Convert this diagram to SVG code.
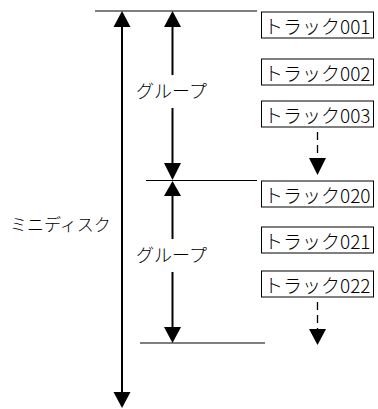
<svg xmlns="http://www.w3.org/2000/svg" width="378" height="409" viewBox="0 0 378 409">
<style>
text{font-family:"Noto Sans CJK JP","Noto Sans",sans-serif;font-weight:300;fill:#000;dominant-baseline:central}
.tr{font-size:19px}
.lb{font-size:18px;text-anchor:middle}
.box{fill:#fff;stroke:#000;stroke-width:1}
.rule{stroke:#000;stroke-width:1.2;fill:none}
.shaft{stroke:#000;stroke-width:2;fill:none}
.dash{stroke:#000;stroke-width:1.3;fill:none;stroke-dasharray:8 5}
.head{fill:#000}
</style>
<rect width="378" height="409" fill="#fff"/>
<g id="connectors">
<line class="rule" x1="95" y1="11" x2="257" y2="11"/>
<line class="rule" x1="146" y1="180.5" x2="257" y2="180.5"/>
<line class="rule" x1="140" y1="343" x2="265" y2="343"/>
<line class="shaft" x1="122" y1="26" x2="122" y2="394"/>
<polygon class="head" points="113.5,27 130.5,27 122,11"/>
<polygon class="head" points="113.5,392 130.5,392 122,408"/>
<line class="shaft" x1="172.5" y1="26" x2="172.5" y2="75"/>
<line class="shaft" x1="172.5" y1="108" x2="172.5" y2="164"/>
<polygon class="head" points="164,27 181,27 172.5,11"/>
<polygon class="head" points="164,163 181,163 172.5,180"/>
<line class="shaft" x1="172.5" y1="195" x2="172.5" y2="239"/>
<line class="shaft" x1="172.5" y1="272" x2="172.5" y2="328"/>
<polygon class="head" points="164,196 181,196 172.5,181"/>
<polygon class="head" points="164,327 181,327 172.5,343"/>
<line class="dash" x1="317.5" y1="132" x2="317.5" y2="159"/>
<polygon class="head" points="309,158 326,158 317.5,175"/>
<line class="dash" x1="317.5" y1="302" x2="317.5" y2="330"/>
<polygon class="head" points="309,329 326,329 317.5,345"/>
</g>
<g id="label-minidisc"><text x="10" y="223" style="font-size:17px">ミニディスク</text></g>
<g id="label-group1"><text class="lb" x="171.5" y="90">グループ</text></g>
<g id="label-group2"><text class="lb" x="171.5" y="254">グループ</text></g>
<g id="track001"><rect class="box" x="261.5" y="12" width="112" height="26"/><text class="tr" x="264" y="25">トラック001</text></g>
<g id="track002"><rect class="box" x="261.5" y="59" width="112" height="26"/><text class="tr" x="264" y="72">トラック002</text></g>
<g id="track003"><rect class="box" x="261.5" y="101" width="112" height="26"/><text class="tr" x="264" y="114">トラック003</text></g>
<g id="track020"><rect class="box" x="261.5" y="181" width="112" height="26"/><text class="tr" x="264" y="194">トラック020</text></g>
<g id="track021"><rect class="box" x="261.5" y="227" width="112" height="26"/><text class="tr" x="264" y="240">トラック021</text></g>
<g id="track022"><rect class="box" x="261.5" y="271" width="112" height="26"/><text class="tr" x="264" y="284">トラック022</text></g>
</svg>
